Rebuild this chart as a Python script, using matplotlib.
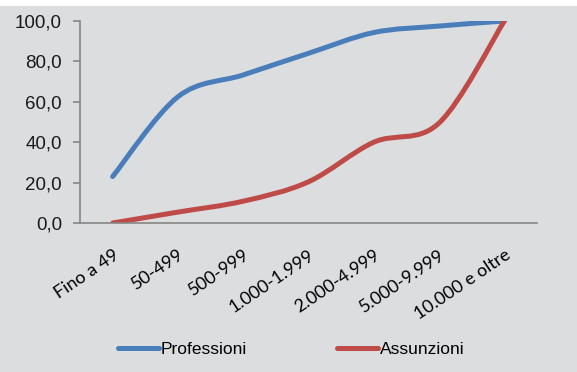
import matplotlib.pyplot as plt
import matplotlib.transforms as mtransforms
from matplotlib.path import Path
from matplotlib.patches import PathPatch, Rectangle
from matplotlib.lines import Line2D
import numpy as np

# Classi di dimensione (categorie) e serie cumulate (%)
categorie = ['Fino a 49', '50-499', '500-999', '1.000-1.999',
             '2.000-4.999', '5.000-9.999', '10.000 e oltre']
professioni = [23.0, 62.5, 73.3, 84.0, 94.3, 97.5, 100.0]
assunzioni = [0.0, 5.4, 10.8, 20.4, 40.0, 49.5, 100.0]

blu = '#4a7ebb'
rosso = '#be4b48'
grigio_sfondo = '#dcdddf'


def linea_smussata(ax, xs, ys, color):
    # curva di Bezier come la linea "smussata" di Excel
    pts = np.column_stack([xs, ys]).astype(float)
    n = len(pts)
    verts = [pts[0]]
    codes = [Path.MOVETO]
    for i in range(n - 1):
        p0 = pts[max(i - 1, 0)]
        p1 = pts[i]
        p2 = pts[i + 1]
        p3 = pts[min(i + 2, n - 1)]
        c1 = p1 + (p2 - p0) / 6.0
        c2 = p2 - (p3 - p1) / 6.0
        verts += [c1, c2, p2]
        codes += [Path.CURVE4] * 3
    patch = PathPatch(Path(verts, codes), fill=False, edgecolor=color,
                      linewidth=3.6, capstyle='round', joinstyle='round')
    ax.add_patch(patch)


fig = plt.figure(figsize=(5.77, 3.72), dpi=100, facecolor=grigio_sfondo)
fig.patches.append(Rectangle((0, 1 - 6 / 372), 1, 6 / 372, transform=fig.transFigure,
                             facecolor='white', edgecolor='none', zorder=0))
ax = fig.add_axes([80 / 577, 1 - 223 / 372, 457 / 577, 202 / 372])
ax.set_facecolor(grigio_sfondo)

x = np.arange(len(categorie))
linea_smussata(ax, x, professioni, blu)
linea_smussata(ax, x, assunzioni, rosso)

ax.set_xlim(-0.5, len(categorie) - 0.5)
ax.set_ylim(0, 100)
ax.set_yticks(np.arange(0, 101, 20))
ax.set_yticklabels([f'{v:.1f}'.replace('.', ',') for v in np.arange(0, 101, 20)],
                   fontsize=13.5, family='Liberation Sans', color='#1a1a1a')
ax.set_xticks(x)
ax.set_xticklabels(categorie, rotation=34, ha='right', va='top', rotation_mode='anchor',
                   fontsize=13, family=['Lato', 'DejaVu Sans'], color='black')
# piccolo spostamento a sinistra delle etichette
sposta = mtransforms.ScaledTranslation(-4 / 100, 0, fig.dpi_scale_trans)
for lab in ax.get_xticklabels():
    lab.set_transform(lab.get_transform() + sposta)

for s in ['top', 'right']:
    ax.spines[s].set_visible(False)
ax.spines['left'].set_color('#868686')
ax.spines['bottom'].set_color('#868686')
ax.spines['left'].set_linewidth(1.2)
ax.spines['bottom'].set_linewidth(1.2)
ax.tick_params(axis='y', length=5, color='#868686', width=1.2, pad=8)
ax.tick_params(axis='x', length=0, pad=17)

maniglie = [Line2D([0], [0], color=blu, lw=3.6, solid_capstyle='round'),
            Line2D([0], [0], color=rosso, lw=3.6, solid_capstyle='round')]
fig.legend(maniglie, ['Professioni', 'Assunzioni'], loc='center',
           bbox_to_anchor=(0.505, 1 - 349 / 372), ncol=2, frameon=False,
           handlelength=2.36, handletextpad=0.12, columnspacing=5.2,
           prop={'family': 'Liberation Sans', 'size': 12.5})

fig.savefig('out.png', dpi=100, facecolor=grigio_sfondo)
